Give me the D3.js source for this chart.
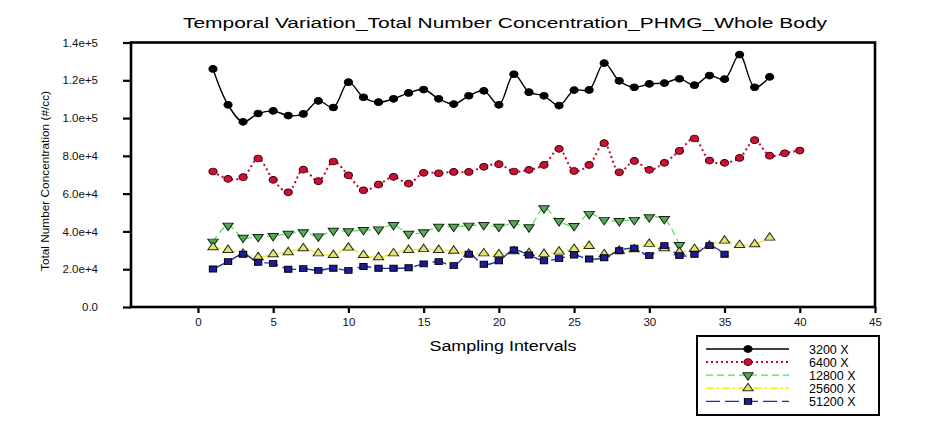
<!doctype html>
<html lang="en">
<head>
<meta charset="utf-8">
<title>Temporal Variation</title>
<style>
  body { margin: 0; background: #fff; }
  svg { display: block; font-family: "Liberation Sans", Arial, sans-serif; }
</style>
</head>
<body>
<svg width="929" height="427"></svg>
<script src="https://d3js.org/d3.v7.min.js"></script>
<script>
// values, #/cc
var s3200 = [126000, 107000, 98000, 102400, 103800, 101300, 102200, 109100, 105600, 119000,
  111000, 108400, 110200, 113300, 115100, 110200, 107400, 111800, 114400, 107000,
  123200, 113700, 111800, 106600, 114800, 114900, 129100, 119700, 116300, 118100,
  118500, 120800, 117400, 122500, 120600, 133600, 116300, 121800];
var s6400 = [71700, 67800, 68700, 78600, 67300, 60700, 72700, 66600, 77000, 69700,
  61800, 64800, 68900, 65300, 71000, 70800, 71500, 71500, 74200, 75600,
  71700, 72600, 75200, 83700, 72000, 75200, 86700, 71300, 77300, 72600,
  76300, 82600, 89200, 77500, 76300, 78900, 88300, 80100, 81400, 82800];
var s12800 = [34600, 43100, 36700, 37100, 37600, 38800, 39600, 37400, 40400, 40100,
  40800, 41100, 43400, 38800, 39600, 42500, 42500, 43100, 43400, 42500,
  44300, 42200, 52300, 45500, 42900, 49300, 46100, 45500, 46100, 47500,
  46600, 32800];
var s25600 = [31600, 30200, 28100, 26300, 27900, 29000, 31100, 28400, 27500, 31400,
  27500, 26300, 28400, 30200, 30600, 30200, 29800, 28100, 28400, 27900,
  29500, 28500, 28100, 29300, 30700, 32300, 27900, 29800, 30500, 33400,
  31100, 29000, 30700, 32500, 35100, 32800, 33200, 36700];
var s51200 = [20100, 24000, 27900, 23700, 23100, 20000, 20300, 19400, 20500, 19400,
  21400, 20500, 20500, 20800, 22800, 24000, 21900, 27900, 22600, 24500,
  30200, 27500, 24500, 25600, 27500, 25400, 26100, 29800, 31100, 27200,
  32500, 27200, 27900, 32500, 27900];

var seriesNames = ["3200 X", "6400 X", "12800 X", "25600 X", "51200 X"];
var xTicks = [0, 5, 10, 15, 20, 25, 30, 35, 40, 45];
var yTicks = [0, 20000, 40000, 60000, 80000, 100000, 120000, 140000];
var yTickLabels = ["0.0", "2.0e+4", "4.0e+4", "6.0e+4", "8.0e+4", "1.0e+5", "1.2e+5", "1.4e+5"];

var styles = [
  { data: s3200, line: "#000", width: 1.4, dash: null, sym: d3.symbolCircle, size: 36, rot: 0, fill: "#000", stroke: "#000" },
  { data: s6400, line: "#cc0033", width: 2, dash: "2,3", sym: d3.symbolCircle, size: 36, rot: 0, fill: "#cc1133", stroke: "#3a0008" },
  { data: s12800, line: "#55dd55", width: 1.2, dash: "7,4", sym: d3.symbolTriangle, size: 32, rot: 180, fill: "#58a858", stroke: "#102810" },
  { data: s25600, line: "#eeee11", width: 1.4, dash: "8,3,2,3", sym: d3.symbolTriangle, size: 32, rot: 0, fill: "#e2e27a", stroke: "#2a2a10" },
  { data: s51200, line: "#2727bb", width: 1.4, dash: "14,5", sym: d3.symbolSquare, size: 36, rot: 0, fill: "#1c1c96", stroke: "#000" }
];

var svg = d3.select("svg");
var plotLeft = 131, plotRight = 875, plotTop = 42.5, plotBottom = 307;

var x = d3.scaleLinear().domain([-4.45, 45]).range([plotLeft, plotRight]);
var y = d3.scaleLinear().domain([0, 140000]).range([plotBottom, plotTop]);

// title
svg.append("text")
  .attr("x", 505).attr("y", 28)
  .attr("text-anchor", "middle")
  .attr("font-size", 15.5)
  .attr("textLength", 644).attr("lengthAdjust", "spacingAndGlyphs")
  .text("Temporal Variation_Total Number Concentration_PHMG_Whole Body");

// axes
var xAxis = svg.append("g")
  .attr("transform", "translate(0," + plotBottom + ")")
  .call(d3.axisBottom(x).tickValues(xTicks).tickSize(6).tickPadding(5).tickSizeOuter(0));
xAxis.select(".domain").remove();
xAxis.selectAll("line").attr("stroke-width", 2.2);
xAxis.selectAll("text").attr("font-size", 11.5).attr("font-family", "Liberation Sans, Arial, sans-serif").attr("fill", "#111");

var yAxis = svg.append("g")
  .attr("transform", "translate(" + plotLeft + ",0)")
  .call(d3.axisLeft(y).tickValues(yTicks).tickFormat(function(d, i) { return yTickLabels[i]; })
    .tickSize(8).tickPadding(25).tickSizeOuter(0));
yAxis.select(".domain").remove();
yAxis.selectAll("line").attr("stroke-width", 2.2);
yAxis.selectAll("text").attr("font-size", 11.5).attr("font-family", "Liberation Sans, Arial, sans-serif").attr("fill", "#111");

svg.append("rect")
  .attr("x", plotLeft).attr("y", plotTop)
  .attr("width", plotRight - plotLeft).attr("height", plotBottom - plotTop)
  .attr("fill", "none").attr("stroke", "#000").attr("stroke-width", 2.6);

svg.append("text")
  .attr("x", 503).attr("y", 351)
  .attr("text-anchor", "middle")
  .attr("font-size", 14)
  .attr("textLength", 147).attr("lengthAdjust", "spacingAndGlyphs")
  .text("Sampling Intervals");

svg.append("text")
  .attr("transform", "translate(49,181) rotate(-90)")
  .attr("text-anchor", "middle")
  .attr("font-size", 10.5)
  .attr("textLength", 180).attr("lengthAdjust", "spacingAndGlyphs")
  .text("Total Number Concentration (#/cc)");

// series
var line = d3.line()
  .x(function(d, i) { return x(i + 1); })
  .y(function(d) { return y(d); })
  .curve(d3.curveCatmullRom.alpha(0.5));

styles.forEach(function(s) {
  svg.append("path")
    .attr("d", line(s.data))
    .attr("fill", "none")
    .attr("stroke", s.line)
    .attr("stroke-width", s.width)
    .attr("stroke-dasharray", s.dash);
});

styles.forEach(function(s) {
  svg.append("g").selectAll("path")
    .data(s.data)
    .enter().append("path")
    .attr("d", d3.symbol().type(s.sym).size(s.size))
    .attr("transform", function(d, i) {
      return "translate(" + x(i + 1) + "," + y(d) + ") scale(1.2,1) rotate(" + s.rot + ")";
    })
    .attr("fill", s.fill)
    .attr("stroke", s.stroke)
    .attr("stroke-width", 0.9);
});

// legend
var lg = svg.append("g");
lg.append("rect")
  .attr("x", 697).attr("y", 336)
  .attr("width", 182).attr("height", 79)
  .attr("fill", "#fff").attr("stroke", "#000").attr("stroke-width", 2);

styles.forEach(function(s, i) {
  var ly = 349 + i * 13.1;
  lg.append("line")
    .attr("x1", 706).attr("x2", 789)
    .attr("y1", ly).attr("y2", ly)
    .attr("stroke", s.line)
    .attr("stroke-width", s.width)
    .attr("stroke-dasharray", s.dash);
  lg.append("path")
    .attr("d", d3.symbol().type(s.sym).size(s.size))
    .attr("transform", "translate(748," + ly + ") scale(1.2,1) rotate(" + s.rot + ")")
    .attr("fill", s.fill)
    .attr("stroke", s.stroke)
    .attr("stroke-width", 0.9);
  lg.append("text")
    .attr("x", 809).attr("y", ly + 4.5)
    .attr("font-size", 12.5)
    .text(seriesNames[i]);
});
</script>
</body>
</html>
